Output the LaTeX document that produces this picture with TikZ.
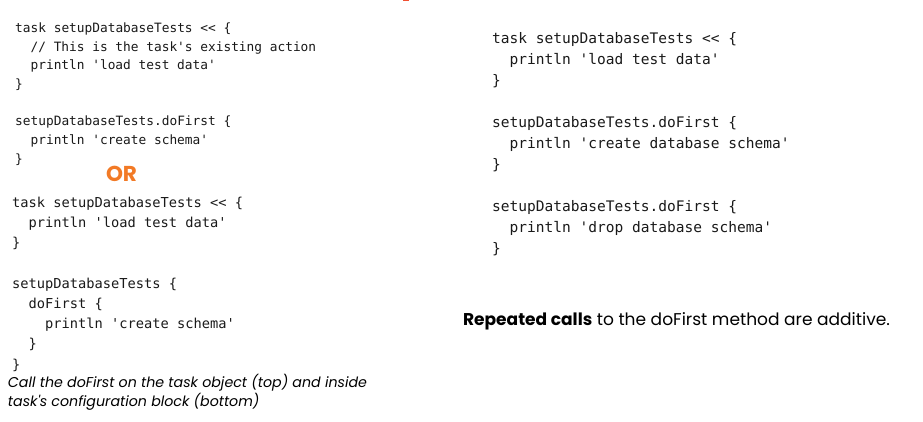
\documentclass[tikz,border=0pt]{standalone}
\usepackage{fontspec}
\setmonofont{DejaVu Sans Mono}
\newfontfamily\capfont{Poppins}
\definecolor{orng}{RGB}{242,122,38}
\definecolor{redmark}{RGB}{240,80,50}
\definecolor{codec}{RGB}{25,25,25}
\newlength\fitw
\newcommand\fitsize[3]{%
  \settowidth\fitw{\fontsize{10}{12}\selectfont #3}%
  \pgfmathsetmacro#1{10*#2/\fitw}}
\tikzset{
  codeline/.style={anchor=base west, inner sep=0pt, outer sep=0pt, text=codec},
  codeA/.style={codeline, font=\fontsize{12.82}{15}\selectfont\ttfamily},
  codeB/.style={codeline, font=\fontsize{13.7}{16}\selectfont\ttfamily},
  codeC/.style={codeline, font=\fontsize{14.53}{17}\selectfont\ttfamily},
  captext/.style={anchor=base west, inner sep=0pt, outer sep=0pt, text=black},
}
\begin{document}
\fitsize{\capsize}{359}{\capfont\itshape Call the doFirst on the task object (top) and inside}%
\fitsize{\repsize}{427}{\capfont\textbf{Repeated calls} to the doFirst method are additive.}%
\fitsize{\orsize}{31}{\capfont\bfseries OR}%
\begin{tikzpicture}[x=1pt,y=-1pt]
\useasboundingbox (0,0) rectangle (923,421);
% small mark at top
\fill[redmark] (403,0) rectangle (409,1.2);
% top-left block
\node[codeA] (a1) at (15.2,32.3) {task setupDatabaseTests << \{};
\node[codeA] (a2) at (30.6,51.0) {// This is the task's existing action};
\node[codeA] (a3) at (30.6,69.7) {println 'load test data'};
\node[codeA] (a4) at (15.2,88.4) {\}};
\node[codeA] (a5) at (15.2,125.8) {setupDatabaseTests.doFirst \{};
\node[codeA] (a6) at (30.6,144.5) {println 'create schema'};
\node[codeA] (a7) at (15.2,163.2) {\}};
% OR
\node[anchor=base, inner sep=0pt, text=orng, font=\fontsize{\orsize}{\orsize}\selectfont\capfont\bfseries] (or) at (121.5,181.5) {OR};
% bottom-left block
\node[codeB] (b1) at (12.2,207.5) {task setupDatabaseTests << \{};
\node[codeB] (b2) at (28.7,227.7) {println 'load test data'};
\node[codeB] (b3) at (12.2,247.9) {\}};
\node[codeB] (b4) at (12.2,288.3) {setupDatabaseTests \{};
\node[codeB] (b5) at (28.7,308.5) {doFirst \{};
\node[codeB] (b6) at (45.2,328.7) {println 'create schema'};
\node[codeB] (b7) at (28.7,348.9) {\}};
\node[codeB] (b8) at (12.2,369.1) {\}};
% right block
\node[codeC] (c1) at (492.2,43) {task setupDatabaseTests << \{};
\node[codeC] (c2) at (509.7,64) {println 'load test data'};
\node[codeC] (c3) at (492.2,85) {\}};
\node[codeC] (c4) at (492.2,127) {setupDatabaseTests.doFirst \{};
\node[codeC] (c5) at (509.7,148) {println 'create database schema'};
\node[codeC] (c6) at (492.2,169) {\}};
\node[codeC] (c7) at (492.2,211) {setupDatabaseTests.doFirst \{};
\node[codeC] (c8) at (509.7,232) {println 'drop database schema'};
\node[codeC] (c9) at (492.2,253) {\}};
% captions
\node[captext, font=\fontsize{\capsize}{\capsize}\selectfont\capfont\itshape] (cap1) at (8,387.5) {Call the doFirst on the task object (top) and inside};
\node[captext, font=\fontsize{\capsize}{\capsize}\selectfont\capfont\itshape] (cap2) at (8,406.5) {task's configuration block (bottom)};
\node[captext, font=\fontsize{\repsize}{\repsize}\selectfont\capfont] (rep) at (463,325.5) {\textbf{Repeated calls} to the doFirst method are additive.};
\end{tikzpicture}
\end{document}
